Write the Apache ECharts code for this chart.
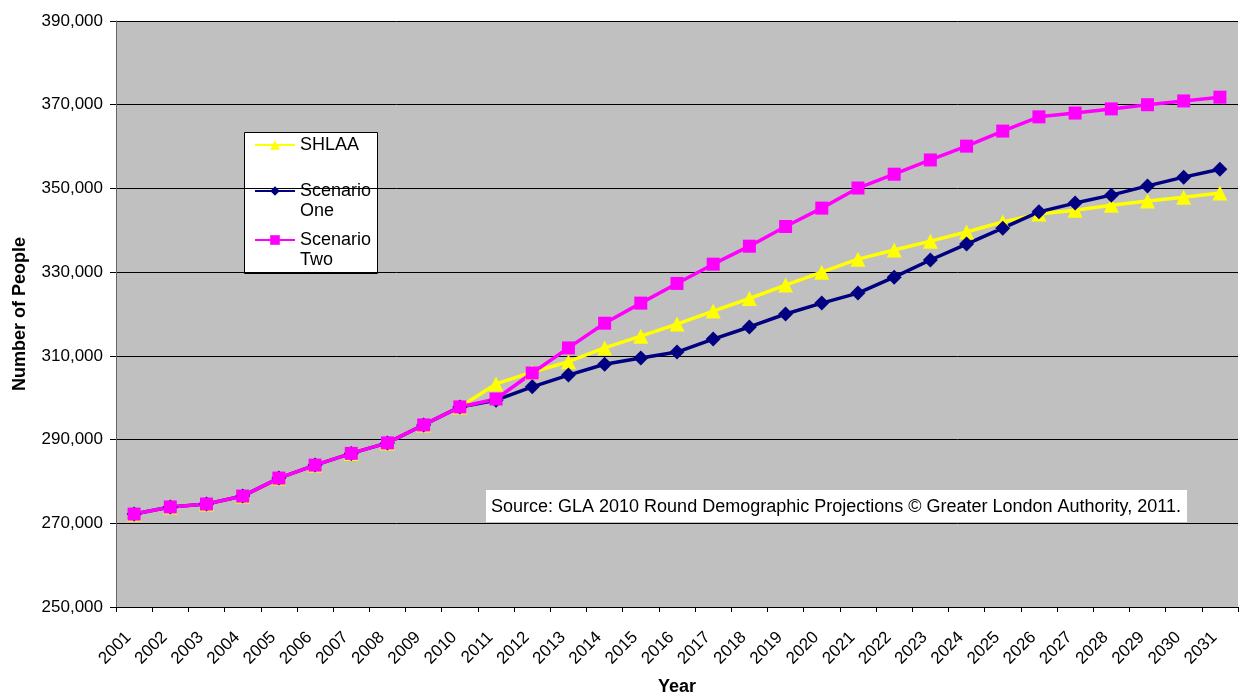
<!DOCTYPE html>
<html>
<head>
<meta charset="utf-8">
<script src="https://cdn.jsdelivr.net/npm/echarts@6/dist/echarts.min.js"></script>
<style>html,body{margin:0;padding:0;background:#fff;}#c{width:1239px;height:693px;}</style>
</head>
<body>
<div id="c"></div>
<script>
const years = ['2001','2002','2003','2004','2005','2006','2007','2008','2009','2010','2011','2012','2013','2014','2015','2016','2017','2018','2019','2020','2021','2022','2023','2024','2025','2026','2027','2028','2029','2030','2031'];
const shlaa = [272200,273900,274600,276500,280800,283900,286700,289200,293500,297800,303300,306100,308600,311900,314700,317600,320700,323700,326900,330000,333100,335300,337400,339600,342000,343900,344800,346000,347000,347900,348900];
const scenarioOne = [272200,273900,274600,276500,280800,283900,286700,289200,293500,297800,299400,302600,305400,308000,309500,310900,314000,316900,320000,322600,325000,328800,332900,336700,340500,344400,346500,348400,350600,352700,354600];
const scenarioTwo = [272200,273900,274600,276500,280800,283900,286700,289200,293500,297800,299700,305900,311900,317800,322600,327300,331900,336200,340900,345300,350100,353400,356800,360100,363700,367100,368000,369000,370000,370900,371800];
const yTicks = {min: 250000, max: 390000, interval: 20000};
const seriesNames = ['SHLAA', 'Scenario\nOne', 'Scenario\nTwo'];
const sourceText = 'Source: GLA 2010 Round Demographic Projections \u00A9 Greater London Authority, 2011.';

const FONT = 'Liberation Sans, Arial, sans-serif';
const chart = echarts.init(document.getElementById('c'), null, {renderer: 'canvas'});

function legendAt(name, top) {
  return {
    data: [name],
    left: 254, top: top, padding: 0, itemWidth: 40, itemHeight: 12,
    selectedMode: false,
    formatter: n => (n.indexOf('\n') >= 0 ? '\n' + n : n),
    textStyle: {fontFamily: FONT, fontSize: 18, color: '#000', lineHeight: 20}
  };
}

const option = {
  animation: false,
  backgroundColor: '#fff',
  grid: {left: 116, right: 1, top: 21, bottom: 86, containLabel: false, outerBoundsMode: 'none',
         show: true, backgroundColor: '#C0C0C0', borderWidth: 0},
  legend: [
    legendAt(seriesNames[0], 135),
    legendAt(seriesNames[1], 161),
    legendAt(seriesNames[2], 210)
  ],
  graphic: [
    {type: 'rect', left: 244, top: 132, z: 0, shape: {width: 133, height: 141},
     style: {fill: '#fff', stroke: '#000', lineWidth: 1}},
    {type: 'text', left: 486, top: 490, z: 10,
     style: {text: sourceText, font: '18px ' + FONT, fill: '#000', backgroundColor: '#fff', padding: [8, 6, 6, 5]}}
  ],
  xAxis: {
    type: 'category', data: years, boundaryGap: true,
    name: 'Year', nameLocation: 'middle', nameGap: 71,
    nameTextStyle: {fontFamily: FONT, fontSize: 18, fontWeight: 'bold', color: '#000'},
    axisLine: {lineStyle: {color: '#000', width: 1}},
    axisTick: {show: true, length: 5, interval: 0, lineStyle: {color: '#000'}},
    axisLabel: {interval: 0, rotate: 45, margin: 22, padding: [0, 8, 0, 0], fontFamily: FONT, fontSize: 17, color: '#000'},
    splitLine: {show: false}
  },
  yAxis: {
    type: 'value', min: yTicks.min, max: yTicks.max, interval: yTicks.interval,
    name: 'Number of People', nameLocation: 'middle', nameGap: 87,
    nameTextStyle: {fontFamily: FONT, fontSize: 18, fontWeight: 'bold', color: '#000'},
    axisLine: {show: true, lineStyle: {color: '#666', width: 1}},
    axisTick: {show: true, length: 6, lineStyle: {color: '#000'}},
    axisLabel: {margin: 13, fontFamily: FONT, fontSize: 17, color: '#000',
      formatter: v => v.toLocaleString('en-US')},
    splitLine: {show: true, lineStyle: {color: '#000', width: 1}}
  },
  series: [
    {name: seriesNames[0], type: 'line', data: shlaa, symbol: 'triangle', symbolSize: 15,
     lineStyle: {color: '#FFFF00', width: 3.5}, itemStyle: {color: '#FFFF00'}},
    {name: seriesNames[1], type: 'line', data: scenarioOne, symbol: 'diamond', symbolSize: 15,
     lineStyle: {color: '#000080', width: 3.5}, itemStyle: {color: '#000080'}},
    {name: seriesNames[2], type: 'line', data: scenarioTwo, symbol: 'rect', symbolSize: 13,
     lineStyle: {color: '#FF00FF', width: 3.5}, itemStyle: {color: '#FF00FF'}}
  ]
};
chart.setOption(option);
</script>
</body>
</html>
